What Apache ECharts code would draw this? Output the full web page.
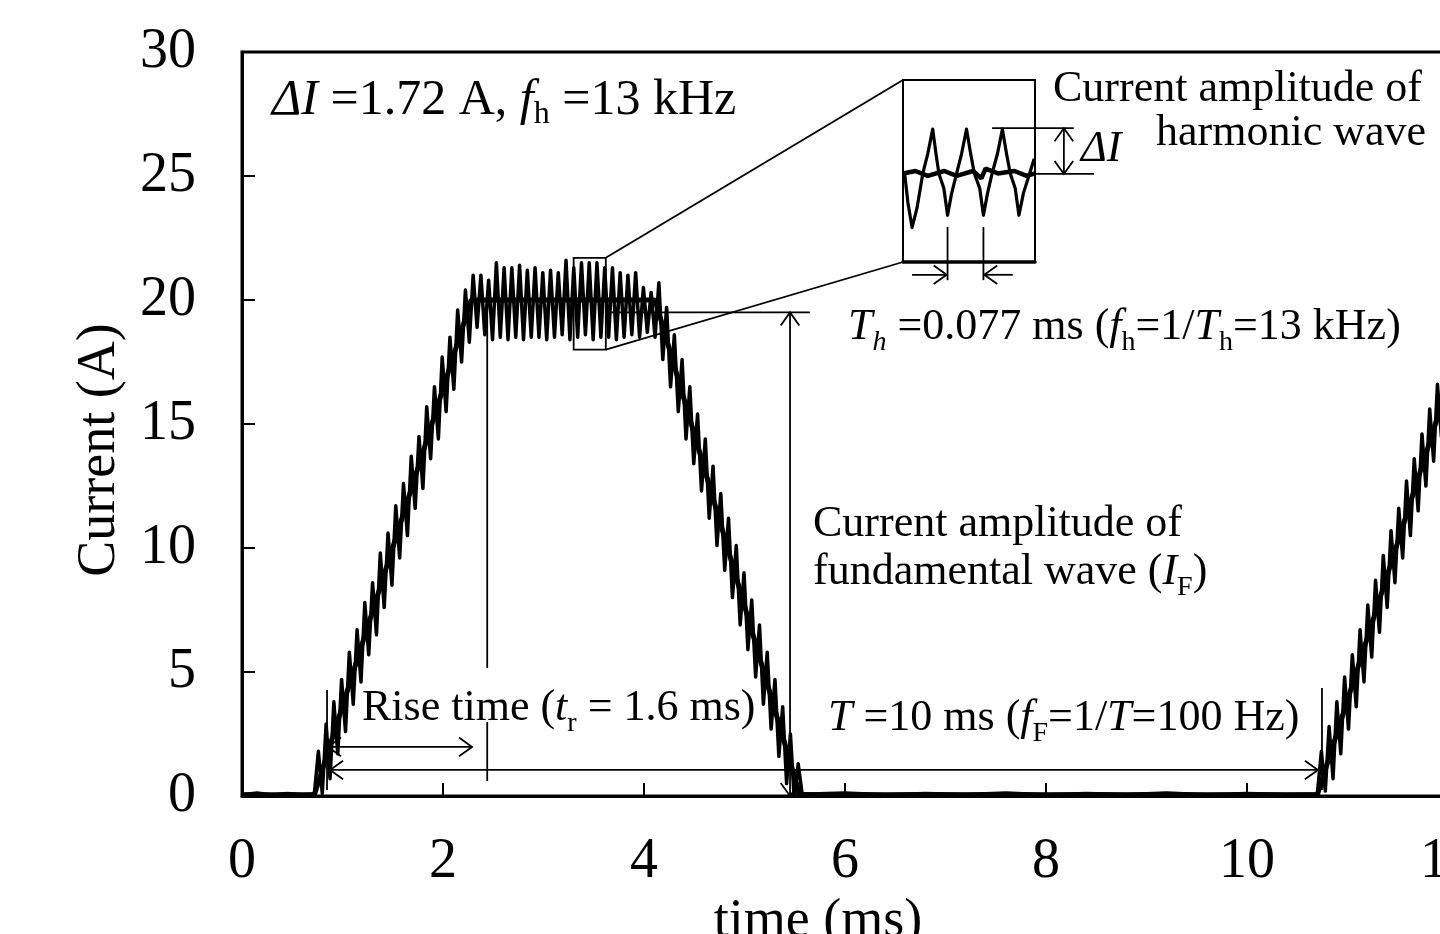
<!DOCTYPE html>
<html>
<head>
<meta charset="utf-8">
<script src="https://cdn.jsdelivr.net/npm/echarts@6/dist/echarts.min.js"></script>
<style>
html,body{margin:0;padding:0;background:#fff;overflow:hidden;}
#c{width:1440px;height:934px;}
</style>
</head>
<body>
<div id="c"></div>
<script>
// ---------------- data ----------------
const xTickValues = [0, 2, 4, 6, 8, 10, 12];
const yTickValues = [0, 5, 10, 15, 20, 25, 30];

// measured current with 13 kHz harmonic ripple (time in ms, current in A)
const rippleTime = [
  0, 0.15, 0.30, 0.45, 0.60, 0.72,
  0.760, 0.799, 0.837, 0.876, 0.914, 0.953, 0.991, 1.030, 1.068, 1.107,
  1.145, 1.184, 1.222, 1.261, 1.299, 1.338, 1.376, 1.415, 1.453, 1.492,
  1.530, 1.569, 1.607, 1.646, 1.684, 1.723, 1.761, 1.800, 1.838, 1.877,
  1.915, 1.954, 1.992, 2.031, 2.069, 2.108, 2.146, 2.185, 2.223, 2.262,
  2.300, 2.339,
  2.377, 2.416, 2.454, 2.493, 2.531, 2.570, 2.608, 2.647, 2.685, 2.724,
  2.762, 2.801, 2.839, 2.878, 2.916, 2.955, 2.993, 3.032, 3.070, 3.109,
  3.147, 3.186, 3.224, 3.263, 3.301, 3.340, 3.378, 3.417, 3.455, 3.494,
  3.532, 3.571, 3.609, 3.648, 3.686, 3.725, 3.763, 3.802, 3.840, 3.879,
  3.917, 3.956, 3.994, 4.033, 4.071, 4.110,
  4.148, 4.187, 4.225, 4.264, 4.302, 4.341, 4.379, 4.418, 4.456, 4.495,
  4.533, 4.572, 4.610, 4.649, 4.687, 4.726, 4.764, 4.803, 4.841, 4.880,
  4.918, 4.957, 4.995, 5.034, 5.072, 5.111, 5.149, 5.188, 5.226, 5.265,
  5.303, 5.342, 5.380, 5.419, 5.457, 5.496, 5.534, 5.573,
  5.65, 6.00, 6.40, 6.80, 7.20, 7.60, 8.00, 8.40, 8.80, 9.20, 9.60, 10.00, 10.40, 10.70,
  10.740, 10.779, 10.817, 10.856, 10.894, 10.933, 10.971, 11.010, 11.048, 11.087,
  11.125, 11.164, 11.202, 11.241, 11.279, 11.318, 11.356, 11.395, 11.433, 11.472,
  11.510, 11.549, 11.587, 11.626, 11.664, 11.703, 11.741, 11.780, 11.818, 11.857,
  11.895, 11.934, 11.972, 12.011
];
const rippleCurrent = [
  0.05, 0.12, 0.04, 0.10, 0.05, 0.08,
  1.8, 0.1, 2.9, 0.7, 3.8, 1.7, 4.7, 2.6, 5.8, 3.7,
  6.7, 4.6, 7.8, 5.7, 8.6, 6.5, 9.8, 7.6, 10.6, 8.5,
  11.7, 9.6, 12.6, 10.5, 13.7, 11.6, 14.5, 12.4, 15.7, 13.6,
  16.5, 14.4, 17.7, 15.5, 18.5, 16.4, 19.6, 17.5, 20.4, 18.3,
  21.0, 18.9,
  21.0, 18.6, 20.8, 18.4, 21.5, 18.5, 21.3, 18.4, 21.3, 18.5,
  21.4, 18.4, 21.2, 18.5, 21.3, 18.5, 21.1, 18.4, 21.2, 18.5,
  21.1, 18.6, 21.6, 18.4, 21.3, 18.5, 21.5, 18.6, 21.5, 18.4,
  21.5, 18.5, 21.3, 18.5, 21.3, 18.4, 21.1, 18.5, 21.0, 18.6,
  21.1, 18.5, 20.5, 18.7, 20.3, 18.5,
  20.7, 17.6, 19.7, 16.5, 18.6, 15.5, 17.6, 14.4, 16.5, 13.4,
  15.4, 12.3, 14.4, 11.2, 13.3, 10.1, 12.2, 9.1, 11.2, 8.0,
  10.1, 6.9, 9.0, 5.9, 7.9, 4.8, 6.9, 3.7, 5.8, 2.7,
  4.7, 1.6, 3.6, 0.5, 2.5, -0.2, 1.3, 0.1,
  0.08, 0.12, 0.05, 0.10, 0.06, 0.12, 0.05, 0.10, 0.06, 0.12, 0.05, 0.10, 0.06, 0.08,
  1.8, 0.2, 2.8, 0.7, 3.8, 1.7, 4.8, 2.7, 5.7, 3.6,
  6.7, 4.6, 7.7, 5.6, 8.7, 6.6, 9.7, 7.6, 10.7, 8.6,
  11.6, 9.6, 12.7, 10.5, 13.6, 11.5, 14.6, 12.5, 15.6, 13.5,
  16.6, 14.5, 17.6, 15.6
];

// fundamental (trapezoidal) component
const fundTime    = [0, 0.72, 2.28, 4.11, 5.55, 10.70, 12.0];
const fundCurrent = [0.05, 0.05, 20.0, 20.0, 0.05, 0.05, 16.6];

// zoomed inset (3.30 - 3.62 ms, 18.0 - 21.7 A)
const insetTime = [
  3.304, 3.312, 3.322, 3.334, 3.348, 3.360, 3.372, 3.380, 3.387, 3.399,
  3.408, 3.418, 3.430, 3.442, 3.454, 3.464, 3.473, 3.486, 3.495, 3.505,
  3.516, 3.529, 3.541, 3.551, 3.560, 3.572, 3.581, 3.592, 3.607, 3.618
];
const insetRipple = [
  19.8, 19.2, 18.7, 19.1, 19.8, 20.2, 20.7, 20.2, 19.8, 19.5,
  18.95, 19.4, 19.8, 20.2, 20.7, 20.2, 19.8, 19.5, 18.95, 19.4,
  19.8, 20.2, 20.7, 20.2, 19.8, 19.5, 18.95, 19.4, 19.8, 20.1
];
const insetFundTime = [3.300, 3.330, 3.360, 3.400, 3.430, 3.470, 3.490, 3.500, 3.530, 3.570, 3.600, 3.620];
const insetFund     = [19.8, 19.85, 19.75, 19.85, 19.75, 19.85, 19.7, 19.9, 19.8, 19.85, 19.75, 19.8];

// ---------------- chart ----------------
const FONT = '"Liberation Serif", "Times New Roman", serif';
const chart = echarts.init(document.getElementById('c'), null, {renderer: 'canvas'});
const pairs = (ts, vs) => ts.map((t, i) => [t, vs[i]]);

chart.setOption({
  animation: false,
  backgroundColor: '#fff',
  grid: [
    {left: 242, top: 52, width: 1206, height: 744, show: true, borderColor: '#000', borderWidth: 3,
     containLabel: false, outerBoundsMode: 'none'},
    {left: 903, top: 80, width: 132, height: 182, show: true, borderColor: '#000', borderWidth: 2,
     backgroundColor: '#fff', containLabel: false, outerBoundsMode: 'none'}
  ],
  xAxis: [
    {
      gridIndex: 0, type: 'value', min: xTickValues[0], max: xTickValues[xTickValues.length - 1], interval: 2,
      axisLine: {onZero: false, lineStyle: {color: '#000', width: 3}},
      axisTick: {inside: true, length: 13, lineStyle: {color: '#000', width: 2}},
      splitLine: {show: false},
      axisLabel: {color: '#000', fontFamily: FONT, fontSize: 56, margin: 38},
      name: 'time (ms)', nameLocation: 'middle', nameGap: 80,
      nameTextStyle: {color: '#000', fontFamily: FONT, fontSize: 54, padding: [0, 54, 0, 0]}
    },
    {
      gridIndex: 1, type: 'value', min: 3.30, max: 3.62,
      axisLine: {show: true, onZero: false, lineStyle: {color: '#000', width: 3.5}},
      axisTick: {show: false}, axisLabel: {show: false}, splitLine: {show: false}
    }
  ],
  yAxis: [
    {
      gridIndex: 0, type: 'value', min: yTickValues[0], max: yTickValues[yTickValues.length - 1], interval: 5,
      axisLine: {onZero: false, lineStyle: {color: '#000', width: 3}},
      axisTick: {inside: true, length: 13, lineStyle: {color: '#000', width: 2}},
      splitLine: {show: false},
      axisLabel: {color: '#000', fontFamily: FONT, fontSize: 56, margin: 46},
      name: 'Current (A)', nameLocation: 'middle', nameGap: 115,
      nameTextStyle: {color: '#000', fontFamily: FONT, fontSize: 54, padding: [0, 52, 0, 0]}
    },
    {
      gridIndex: 1, type: 'value', min: 18.0, max: 21.7,
      axisLine: {show: false}, axisTick: {show: false}, axisLabel: {show: false}, splitLine: {show: false}
    }
  ],
  series: [
    {type: 'line', xAxisIndex: 0, yAxisIndex: 0, data: pairs(fundTime, fundCurrent),
     symbol: 'none', lineStyle: {color: '#000', width: 5}, z: 3},
    {type: 'line', xAxisIndex: 0, yAxisIndex: 0, data: pairs(rippleTime, rippleCurrent),
     symbol: 'none', lineStyle: {color: '#000', width: 3.5, join: 'round'}, z: 4},
    {type: 'line', xAxisIndex: 1, yAxisIndex: 1, data: pairs(insetFundTime, insetFund),
     symbol: 'none', lineStyle: {color: '#000', width: 4.5}, z: 3},
    {type: 'line', xAxisIndex: 1, yAxisIndex: 1, data: pairs(insetTime, insetRipple),
     symbol: 'none', lineStyle: {color: '#000', width: 3.2, join: 'round'}, z: 4}
  ]
});

// ---------------- annotations (defined in data units, converted to pixels) ----------------
const P  = (t, i) => chart.convertToPixel({gridIndex: 0}, [t, i]);
const Pi = (t, i) => chart.convertToPixel({gridIndex: 1}, [t, i]);
const LW = 1.8;
const g = [];
function seg(a, b, w) {
  g.push({type: 'line', z: 50, shape: {x1: a[0], y1: a[1], x2: b[0], y2: b[1]},
          style: {stroke: '#000', lineWidth: w || LW}});
}
function head(tip, from, len) {
  const L = len || 16, th = 0.62;
  const dx = tip[0] - from[0], dy = tip[1] - from[1];
  const d = Math.hypot(dx, dy) || 1;
  const ux = dx / d, uy = dy / d;
  const r = (ang) => [tip[0] - L * (ux * Math.cos(ang) - uy * Math.sin(ang)),
                      tip[1] - L * (uy * Math.cos(ang) + ux * Math.sin(ang))];
  g.push({type: 'polyline', z: 50, shape: {points: [r(th), tip, r(-th)]},
          style: {stroke: '#000', lineWidth: LW, fill: null}});
}
function arrow(a, b, both) {
  seg(a, b);
  head(b, a);
  if (both) head(a, b);
}

// zoom box on the flat top and connectors to the inset
const zb = {t0: 3.30, t1: 3.62, i0: 18.0, i1: 21.7};
const zr0 = P(zb.t0, zb.i1), zr1 = P(zb.t1, zb.i0);
g.push({type: 'rect', z: 50, shape: {x: zr0[0], y: zr0[1], width: zr1[0] - zr0[0], height: zr1[1] - zr0[1]},
        style: {stroke: '#000', lineWidth: LW, fill: null}});
seg(P(zb.t1, zb.i1), Pi(zb.t0, zb.i1));
seg(P(zb.t1, zb.i0), Pi(zb.t0, zb.i0));

// fundamental amplitude marker
seg(P(zb.t1, 19.5), P(5.65, 19.5));
arrow(P(5.453, 0), P(5.453, 19.5), true);

// rise-time markers
seg(P(2.44, 19.8), P(2.44, 5.16));
seg(P(2.44, 2.98), P(2.44, 0.6));
seg(P(0.846, 4.27), P(0.846, 0.24));
arrow(P(0.856, 1.98), P(2.289, 1.98), true);

// period marker
seg(P(10.746, 4.35), P(10.746, 0.24));
arrow(P(0.876, 1.05), P(10.706, 1.05), true);

// inset: harmonic period and amplitude markers
seg(Pi(3.408, 18.71), Pi(3.408, 17.63));
seg(Pi(3.495, 18.71), Pi(3.495, 17.63));
arrow(Pi(3.322, 17.74), Pi(3.406, 17.74), false);
arrow(Pi(3.566, 17.74), Pi(3.497, 17.74), false);
seg(Pi(3.516, 20.72), Pi(3.714, 20.72));
seg(Pi(3.615, 19.79), Pi(3.763, 19.79));
arrow(Pi(3.690, 19.79), Pi(3.690, 20.72), true);

// ---------------- texts ----------------
function mkRich(fs, sfs) {
  const base = {fontFamily: FONT, fontSize: fs, lineHeight: 60, verticalAlign: 'middle', fill: '#000'};
  const sub = {fontFamily: FONT, fontSize: sfs, lineHeight: 26, verticalAlign: 'bottom', fill: '#000'};
  return {
    n: Object.assign({}, base),
    i: Object.assign({}, base, {fontStyle: 'italic'}),
    s: Object.assign({}, sub),
    si: Object.assign({}, sub, {fontStyle: 'italic'})
  };
}
function txt(x, y, text, align, fs) {
  const f = fs || 44;
  g.push({type: 'text', z: 60, x: x, y: y,
          style: {text: text, rich: mkRich(f, Math.round(f * 0.64)), fontFamily: FONT, fontSize: f, fill: '#000',
                  align: align || 'left', verticalAlign: 'middle'}});
}
txt(272, 101, '{i|ΔI}{n| =1.72 A, }{i|f}{s|h}{n| =13 kHz}', 'left', 50);
txt(1053, 89, '{n|Current amplitude of}');
txt(1426, 133, '{n|harmonic wave}', 'right');
txt(1081, 149, '{i|ΔI}');
txt(848, 327, '{i|T}{si|h}{n| =0.077 ms (}{i|f}{s|h}{n|=1/}{i|T}{s|h}{n|=13 kHz)}');
txt(813, 524, '{n|Current amplitude of}');
txt(813, 572, '{n|fundamental wave (}{i|I}{s|F}{n|)}');
txt(362, 708, '{n|Rise time (}{i|t}{s|r}{n| = 1.6 ms)}');
txt(828, 718, '{i|T}{n| =10 ms (}{i|f}{s|F}{n|=1/}{i|T}{n|=100 Hz)}');

chart.setOption({graphic: g});
</script>
</body>
</html>
